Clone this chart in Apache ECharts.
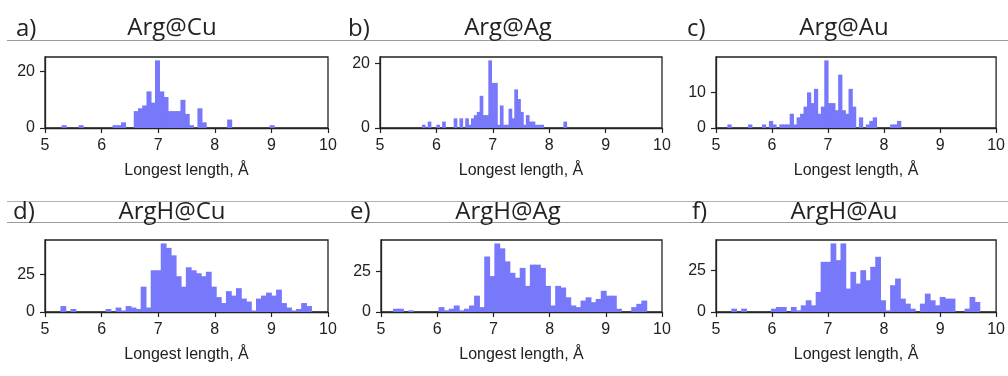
<!DOCTYPE html>
<html><head><meta charset="utf-8">
<script src="https://cdn.jsdelivr.net/npm/echarts@6/dist/echarts.min.js"></script>
<style>html,body{margin:0;padding:0;background:#fff}#c{width:1008px;height:376px}</style>
</head><body><div id="c"></div>
<script>
// ---- data ----
const panelLetters = ['a)', 'b)', 'c)', 'd)', 'e)', 'f)'];
const panelTitles = ['Arg@Cu', 'Arg@Ag', 'Arg@Au', 'ArgH@Cu', 'ArgH@Ag', 'ArgH@Au'];
const xTickValues = [5, 6, 7, 8, 9, 10];
const xAxisName = 'Longest length, Å';
const yTickValues = [[0, 20], [0, 20], [0, 10], [0, 25], [0, 25], [0, 25]];
// 50-bin histograms; each spans its data range [lo, hi] (Å)
const rangeArgCu = [5.30, 9.05];
const rangeArgAg = [5.75, 8.31];
const rangeArgAu = [5.21, 8.30];
const rangeArgHCu = [5.28, 9.71];
const rangeArgHAg = [5.22, 9.73];
const rangeArgHAu = [5.28, 9.71];
const countsArgCu = [1,0,0,0,1,0,0,0,0,0, 0,0,1,1,2,0,0,6,7,8, 13,9,24,13,11,6,6,6,10,5, 1,0,7,2,0,0,0,0,0,3, 0,0,0,0,0,0,0,0,0,1];
const countsArgAg = [1,0,2,0,0,1,0,2,0,0, 0,3,0,3,0,3,1,3,4,5, 10,4,4,21,14,14,1,7,1,1, 6,3,12,9,5,1,4,2,2,1, 1,1,0,0,0,0,0,0,0,2];
const countsArgAu = [1,0,0,0,0,0,1,0,0,0, 1,0,2,1,0,1,1,1,4,1, 3,4,6,10,7,11,4,6,19,7, 7,5,15,5,4,11,6,0,3,0, 1,2,3,0,0,0,0,1,1,2];
const countsArgHCu = [4,0,2,0,0,0,0,0,0,2, 0,3,1,4,3,2,17,3,28,28, 46,43,38,24,17,30,28,26,24,27, 17,10,6,14,11,16,9,7,1,9, 11,13,11,15,6,3,1,2,6,4];
const countsArgHAg = [2,2,0,1,0,0,0,0,0,3, 1,2,4,1,2,4,10,3,34,22, 42,39,31,24,21,27,16,29,29,27, 16,4,16,15,9,4,3,7,9,6, 8,13,10,10,2,0,0,3,5,7];
const countsArgHAu = [2,0,2,0,0,0,0,0,2,3, 3,0,3,1,4,7,4,12,30,30, 41,31,41,14,24,17,25,19,27,33, 7,1,16,20,8,5,2,0,5,11, 7,4,9,8,8,0,0,2,9,6];

const ranges = [rangeArgCu, rangeArgAg, rangeArgAu, rangeArgHCu, rangeArgHAg, rangeArgHAu];
const counts = [countsArgCu, countsArgAg, countsArgAu, countsArgHCu, countsArgHAg, countsArgHAu];

// ---- layout ----
const grids = [
  {left: 45, top: 57, width: 283, height: 71},
  {left: 380, top: 57, width: 282, height: 71},
  {left: 716, top: 57, width: 282, height: 71},
  {left: 45, top: 240, width: 283, height: 72},
  {left: 381, top: 240, width: 281, height: 72},
  {left: 716, top: 240, width: 283, height: 72}
];
const letterPos = [[16, 29], [348, 29], [687, 29], [13, 212], [350, 212], [692, 212]];
const titlePos = [[172, 28], [508, 28], [844, 28], [172, 212], [508, 212], [844, 212]];

const BAR = '#7878fb';
const INK = '#222';
const AXFONT = '"Liberation Sans", Arial, sans-serif';

function histData(range, c) {
  const w = (range[1] - range[0]) / c.length;
  return c.map((v, i) => [range[0] + i * w, range[0] + (i + 1) * w, v]);
}

function renderItem(params, api) {
  const v = api.value(2);
  if (!v) return null;
  const p0 = api.coord([api.value(0), v]);
  const p1 = api.coord([api.value(1), 0]);
  return {
    type: 'rect',
    shape: {x: p0[0] - 0.4, y: p0[1], width: p1[0] - p0[0] + 0.8, height: p1[1] - p0[1]},
    style: {fill: BAR}
  };
}

const option = {
  animation: false,
  backgroundColor: '#fff',
  grid: grids.map(g => Object.assign({show: true, borderColor: INK, borderWidth: 1.3, backgroundColor: 'transparent'}, g)),
  xAxis: grids.map((g, i) => ({
    type: 'value', gridIndex: i, min: xTickValues[0], max: xTickValues[xTickValues.length - 1], interval: 1,
    name: xAxisName, nameLocation: 'middle', nameGap: 35,
    nameTextStyle: {fontFamily: AXFONT, fontSize: 16, color: INK},
    axisLine: {show: true, lineStyle: {color: INK, width: 1.3}},
    axisTick: {show: true, length: 5, lineStyle: {color: INK, width: 1.2}},
    axisLabel: {fontFamily: AXFONT, fontSize: 16, color: INK, margin: 10},
    splitLine: {show: false}
  })),
  yAxis: grids.map((g, i) => ({
    type: 'value', gridIndex: i, min: 0, max: Math.max(...counts[i]) * 1.05,
    axisLine: {show: true, lineStyle: {color: INK, width: 1.3}},
    axisTick: {show: true, length: 5, lineStyle: {color: INK, width: 1.2}, customValues: yTickValues[i]},
    axisLabel: {fontFamily: AXFONT, fontSize: 16, color: INK, margin: 10, customValues: yTickValues[i]},
    splitLine: {show: false}
  })),
  series: counts.map((c, i) => ({
    type: 'custom', xAxisIndex: i, yAxisIndex: i,
    renderItem: renderItem,
    encode: {x: [0, 1], y: 2},
    data: histData(ranges[i], c)
  })),
  graphic: [
    {type: 'line', shape: {x1: 7, y1: 40.5, x2: 1008, y2: 40.5}, style: {stroke: '#9a9a9a', lineWidth: 1}},
    {type: 'line', shape: {x1: 7, y1: 201.5, x2: 1008, y2: 201.5}, style: {stroke: '#b0b0b0', lineWidth: 1}},
    {type: 'line', shape: {x1: 7, y1: 222.5, x2: 1008, y2: 222.5}, style: {stroke: '#9a9a9a', lineWidth: 1}}
  ].concat(panelLetters.map((t, i) => ({
    type: 'text', x: letterPos[i][0], y: letterPos[i][1],
    style: {text: t, font: '24px "Open Sans"', fill: INK, align: 'left', verticalAlign: 'middle'}
  }))).concat(panelTitles.map((t, i) => ({
    type: 'text', x: titlePos[i][0], y: titlePos[i][1],
    style: {text: t, font: '24px "Open Sans"', fill: INK, align: 'center', verticalAlign: 'middle'}
  })))
};

const chart = echarts.init(document.getElementById('c'), null, {renderer: 'canvas'});
chart.setOption(option);
</script>
</body></html>
